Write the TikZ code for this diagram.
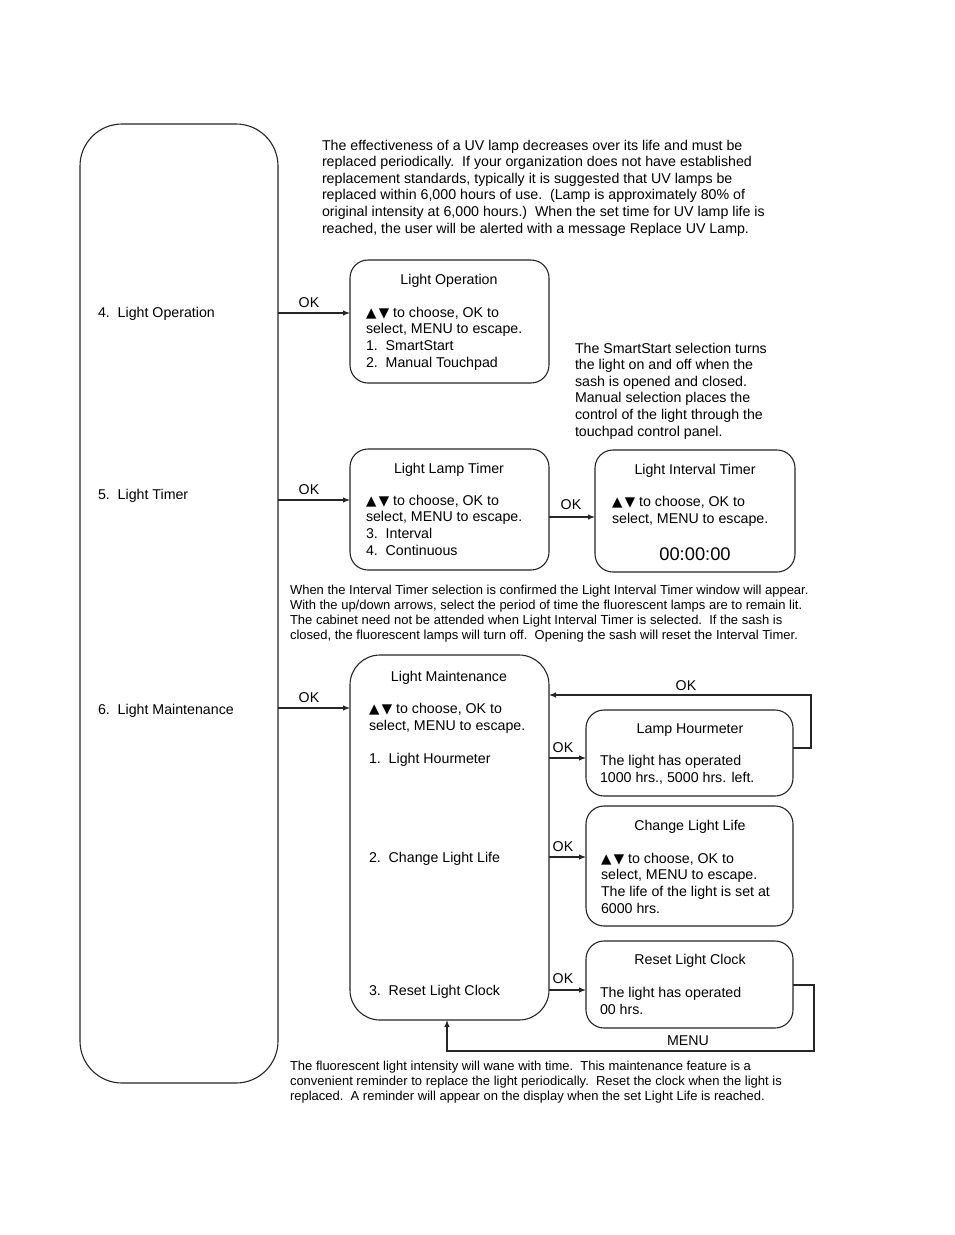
\documentclass[tikz,border=0pt]{standalone}
\usepackage{fontspec}
\setmainfont{Liberation Sans}
\newfontfamily\symf{DejaVu Sans}
\usetikzlibrary{arrows.meta}
\newcommand{\updn}{{\symf\fontsize{13.5}{10}\selectfont ▲\kern2.5pt▼}}
\begin{document}
\begin{tikzpicture}[x=1pt,y=-1pt,
  every node/.style={inner sep=0pt, outer sep=0pt},
  frame/.style={draw=black!85, line width=1.1pt, rounded corners=18pt},
  bigframe/.style={draw=black!85, line width=1.1pt, rounded corners=42pt},
  txt/.style={font=\fontsize{14.2}{16.6}\selectfont, align=left, anchor=base west},
  ttl/.style={font=\fontsize{14.2}{16.6}\selectfont, anchor=base},
  small/.style={font=\fontsize{13}{15}\selectfont, align=left, anchor=base west},
  lbl/.style={font=\fontsize{14.2}{16.6}\selectfont, anchor=base},
  arr/.style={draw=black!85, line width=1.1pt, -{Latex[length=7pt,width=5.5pt]}},
  ln/.style={draw=black!85, line width=1.1pt}]
\useasboundingbox (0,0) rectangle (954,1235);
\fill[white] (0,0) rectangle (954,1235);

% boxes
\node[bigframe, minimum width=198pt, minimum height=959pt] (left) at (179,603.5) {};
\node[frame, minimum width=199pt, minimum height=123pt] (lo) at (449.5,321.5) {};
\node[frame, minimum width=199pt, minimum height=121pt] (lt) at (449.5,509.5) {};
\node[frame, minimum width=200pt, minimum height=122pt] (it) at (695,511) {};
\node[frame, rounded corners=30pt, minimum width=199pt, minimum height=365pt] (lm) at (449.5,837.5) {};
\node[frame, minimum width=207pt, minimum height=86pt] (lh) at (689.5,753) {};
\node[frame, minimum width=207pt, minimum height=120pt] (cl) at (689.5,866) {};
\node[frame, minimum width=207pt, minimum height=87pt] (rc) at (689.5,984.5) {};

% left labels
\node[txt] (l4) at (98,317) {4.\ \ Light Operation};
\node[txt] (l5) at (98,499) {5.\ \ Light Timer};
\node[txt] (l6) at (98,714) {6.\ \ Light Maintenance};

% paragraphs (anchored at the baseline of their last line)
\node[txt] (p1) at (322,233) {The effectiveness of a UV lamp decreases over its life and must be\\
replaced periodically.\ \ If your organization does not have established\\
replacement standards, typically it is suggested that UV lamps be\\
replaced within 6,000 hours of use.\ \ (Lamp is approximately 80\% of\\
original intensity at 6,000 hours.)\ \ When the set time for UV lamp life is\\
reached, the user will be alerted with a message Replace UV Lamp.};

\node[txt] (p2) at (575,436) {The SmartStart selection turns\\
the light on and off when the\\
sash is opened and closed.\\
Manual selection places the\\
control of the light through the\\
touchpad control panel.};

\node[small] (p3) at (290,639) {When the Interval Timer selection is confirmed the Light Interval Timer window will appear.\\
With the up/down arrows, select the period of time the fluorescent lamps are to remain lit.\\
The cabinet need not be attended when Light Interval Timer is selected.\ \ If the sash is\\
closed, the fluorescent lamps will turn off.\ \ Opening the sash will reset the Interval Timer.};

\node[small] (p4) at (290,1100) {The fluorescent light intensity will wane with time.\ \ This maintenance feature is a\\
convenient reminder to replace the light periodically.\ \ Reset the clock when the light is\\
replaced.\ \ A reminder will appear on the display when the set Light Life is reached.};

% box contents
\node[ttl] (lot) at (449,284) {Light Operation};
\node[txt] (lob) at (366,367) {\updn\ to choose, OK to\\select, MENU to escape.\\1.\ \ SmartStart\\2.\ \ Manual Touchpad};

\node[ttl] (ltt) at (449,473) {Light Lamp Timer};
\node[txt] (ltb) at (366,555) {\updn\ to choose, OK to\\select, MENU to escape.\\3.\ \ Interval\\4.\ \ Continuous};

\node[ttl] (itt) at (695,474) {Light Interval Timer};
\node[txt] (itb) at (612,523) {\updn\ to choose, OK to\\select, MENU to escape.};
\node[ttl, font=\fontsize{18.3}{20}\selectfont] (itc) at (695,560) {00:00:00};

\node[ttl] (lmt) at (449,681) {Light Maintenance};
\node[txt] (lmb) at (369,730) {\updn\ to choose, OK to\\select, MENU to escape.};
\node[txt] (lm1) at (369,763) {1.\ \ Light Hourmeter};
\node[txt] (lm2) at (369,862) {2.\ \ Change Light Life};
\node[txt] (lm3) at (369,995) {3.\ \ Reset Light Clock};

\node[ttl] (lht) at (690,733) {Lamp Hourmeter};
\node[txt] (lhb) at (600,782) {The light has operated\\1000 hrs., 5000 hrs. left.};

\node[ttl] (clt) at (690,830) {Change Light Life};
\node[txt] (clb) at (601,913) {\updn\ to choose, OK to\\select, MENU to escape.\\The life of the light is set at\\6000 hrs.};

\node[ttl] (rct) at (690,964) {Reset Light Clock};
\node[txt] (rcb) at (600,1014) {The light has operated\\00 hrs.};

% connectors
\draw[arr] (left.east |- 0,313) -- (lo.west |- 0,313);
\draw[arr] (left.east |- 0,500) -- (lt.west |- 0,500);
\draw[arr] (lt.east |- 0,517) -- (it.west |- 0,517);
\draw[arr] (left.east |- 0,708) -- (lm.west |- 0,708);
\draw[arr] (lm.east |- 0,758) -- (lh.west |- 0,758);
\draw[arr] (lm.east |- 0,857) -- (cl.west |- 0,857);
\draw[arr] (lm.east |- 0,990) -- (rc.west |- 0,990);
\coordinate (okc) at (811,695);
\draw[arr] (lh.east |- 0,748) -| (okc) -- (lm.east |- okc);
\coordinate (mc) at (814,1051);
\draw[arr] (rc.east |- 0,985) -| (mc) -- (447,1051) -- (lm.south -| 447,0);

% connector labels
\node[lbl] (ok1) at (309,307) {OK};
\node[lbl] (ok2) at (309,494) {OK};
\node[lbl] (ok3) at (571,509) {OK};
\node[lbl] (ok4) at (309,702) {OK};
\node[lbl] (ok5) at (563,752) {OK};
\node[lbl] (ok6) at (563,851) {OK};
\node[lbl] (ok7) at (563,983) {OK};
\node[lbl] (ok8) at (686,690) {OK};
\node[lbl] (menu) at (688,1045) {MENU};
\end{tikzpicture}
\end{document}
